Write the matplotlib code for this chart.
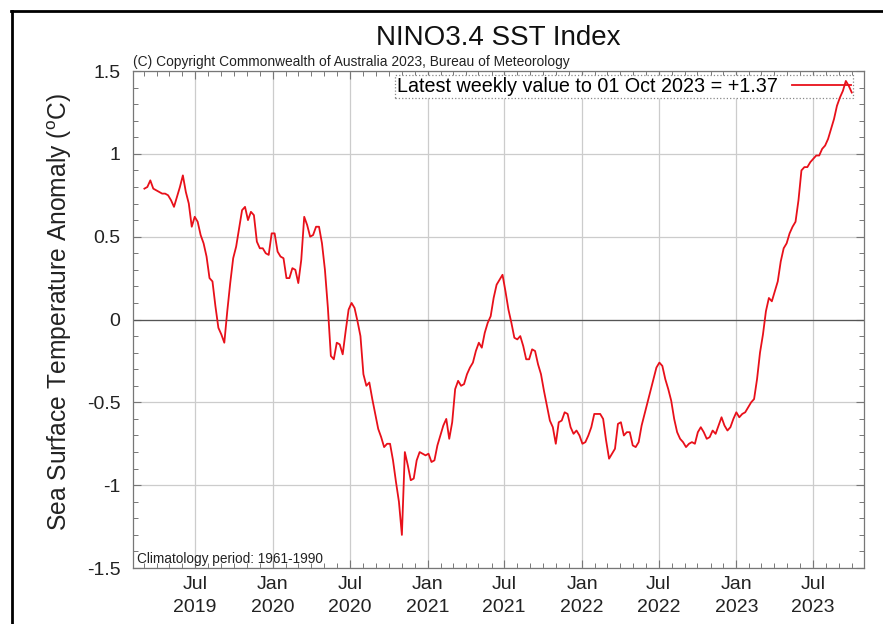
import pandas as pd
import matplotlib
matplotlib.use("Agg")
import matplotlib.pyplot as plt
import matplotlib.dates as mdates
from matplotlib.ticker import MultipleLocator
from matplotlib.lines import Line2D

plt.rcParams['font.family'] = ['Liberation Sans', 'DejaVu Sans']

# === Data (weekly NINO3.4 anomalies) ===
first_week = "2019-03-03"
sst_anom = [
    0.79, 0.80, 0.84, 0.79, 0.78, 0.77, 0.76, 0.76, 0.75, 0.72,
    0.68, 0.74, 0.80, 0.87, 0.77, 0.70, 0.56, 0.62, 0.59, 0.51,
    0.46, 0.38, 0.25, 0.23, 0.08, -0.05, -0.09, -0.14, 0.05, 0.22,
    0.37, 0.44, 0.55, 0.66, 0.68, 0.60, 0.65, 0.63, 0.47, 0.43,
    0.43, 0.40, 0.39, 0.52, 0.52, 0.41, 0.38, 0.37, 0.25, 0.25,
    0.31, 0.30, 0.22, 0.36, 0.62, 0.57, 0.50, 0.51, 0.56, 0.56,
    0.46, 0.30, 0.07, -0.22, -0.24, -0.14, -0.15, -0.21, -0.07, 0.06,
    0.10, 0.07, -0.01, -0.10, -0.33, -0.40, -0.38, -0.48, -0.57, -0.66,
    -0.71, -0.77, -0.75, -0.75, -0.85, -0.98, -1.10, -1.30, -0.80, -0.88,
    -0.97, -0.96, -0.85, -0.80, -0.81, -0.82, -0.81, -0.86, -0.85, -0.76,
    -0.70, -0.64, -0.60, -0.72, -0.62, -0.42, -0.37, -0.40, -0.39, -0.33,
    -0.29, -0.26, -0.19, -0.14, -0.17, -0.08, -0.02, 0.02, 0.13, 0.21,
    0.24, 0.27, 0.17, 0.06, -0.02, -0.11, -0.12, -0.10, -0.16, -0.24,
    -0.24, -0.18, -0.19, -0.27, -0.33, -0.43, -0.52, -0.61, -0.65, -0.75,
    -0.62, -0.61, -0.56, -0.57, -0.65, -0.69, -0.67, -0.70, -0.75, -0.74,
    -0.70, -0.65, -0.57, -0.57, -0.57, -0.60, -0.73, -0.84, -0.81, -0.78,
    -0.63, -0.62, -0.70, -0.68, -0.68, -0.76, -0.77, -0.74, -0.64, -0.57,
    -0.50, -0.43, -0.36, -0.29, -0.26, -0.28, -0.36, -0.42, -0.49, -0.60,
    -0.68, -0.72, -0.74, -0.77, -0.75, -0.74, -0.75, -0.68, -0.65, -0.68,
    -0.72, -0.71, -0.67, -0.69, -0.64, -0.59, -0.64, -0.67, -0.65, -0.60,
    -0.56, -0.59, -0.57, -0.56, -0.53, -0.50, -0.48, -0.36, -0.20, -0.09,
    0.05, 0.13, 0.11, 0.17, 0.23, 0.35, 0.43, 0.46, 0.52, 0.56,
    0.59, 0.72, 0.90, 0.92, 0.92, 0.95, 0.97, 0.99, 0.99, 1.03,
    1.05, 1.09, 1.15, 1.21, 1.29, 1.34, 1.38, 1.44, 1.41, 1.37,
]
weeks = pd.date_range(first_week, periods=len(sst_anom), freq="7D")

x_start, x_end = "2019-02-04", "2023-10-30"
tick_dates = pd.date_range("2019-07-01", "2023-07-01", freq="6MS")
tick_labels = [d.strftime("%b\n%Y") for d in tick_dates]
y_ticks = [-1.5, -1, -0.5, 0, 0.5, 1, 1.5]
y_tick_labels = ["-1.5", "-1", "-0.5", "0", "0.5", "1", "1.5"]
legend_text = "Latest weekly value to 01 Oct 2023 = +1.37"

# === Figure ===
fig = plt.figure(figsize=(8.83, 6.24), dpi=100)
ax = fig.add_axes([0.1506, 0.0897, 0.8279, 0.7965])

ax.plot(weeks, sst_anom, color='#e8101a', lw=1.3, label=legend_text, zorder=4)
ax.axhline(0, color='#555555', lw=0.9, zorder=2)

ax.set_xlim(pd.Timestamp(x_start), pd.Timestamp(x_end))
ax.set_ylim(-1.5, 1.5)

ax.set_xticks(tick_dates, tick_labels, linespacing=1.4)
ax.xaxis.set_minor_locator(mdates.MonthLocator())
ax.set_yticks(y_ticks, y_tick_labels)
ax.yaxis.set_minor_locator(MultipleLocator(0.1))

ax.tick_params(which='both', direction='in', top=True, right=True,
               color='#777777', labelsize=14, labelcolor='#222222')
ax.tick_params(which='major', length=6, width=0.8)
ax.tick_params(which='minor', length=3.5, width=0.7)
ax.tick_params(axis='y', pad=9)
ax.tick_params(axis='x', pad=6)

ax.grid(True, which='major', color='#cccccc', lw=0.9, zorder=1)
for s in ax.spines.values():
    s.set_color('#777777')
    s.set_linewidth(0.9)

ax.set_ylabel("Sea Surface Temperature Anomaly ($\\mathregular{^o}$C)",
              fontsize=17.7, color='#222222')
ax.yaxis.set_label_coords(-0.081, 0.516)

ax.set_title("NINO3.4 SST Index", fontsize=20, color='#111111', pad=19)
ax.text(0.0, 1.004, "(C) Copyright Commonwealth of Australia 2023, Bureau of Meteorology",
        transform=ax.transAxes, fontsize=9.9, color='#222222', ha='left', va='bottom')
ax.text(0.006, 0.004, "Climatology period: 1961-1990", transform=ax.transAxes,
        fontsize=9.8, color='#222222', ha='left', va='bottom')

leg = ax.legend(loc='upper right', bbox_to_anchor=(0.985, 0.992), markerfirst=False,
                fontsize=14.2, frameon=True, fancybox=False, borderpad=0.1,
                handlelength=3.0, handletextpad=0.7, borderaxespad=0.0)
leg.set_zorder(3)
frame = leg.get_frame()
frame.set_edgecolor('#888888')
frame.set_linestyle(':')
frame.set_linewidth(0.9)
frame.set_alpha(1.0)

# outer screenshot frame
fig.add_artist(Line2D([0.0125, 1.0], [0.9825, 0.9825], transform=fig.transFigure,
                      color='black', lw=2))
fig.add_artist(Line2D([0.0135, 0.0135], [0.0, 0.9825], transform=fig.transFigure,
                      color='black', lw=2))

fig.savefig("out.png", dpi=100)
